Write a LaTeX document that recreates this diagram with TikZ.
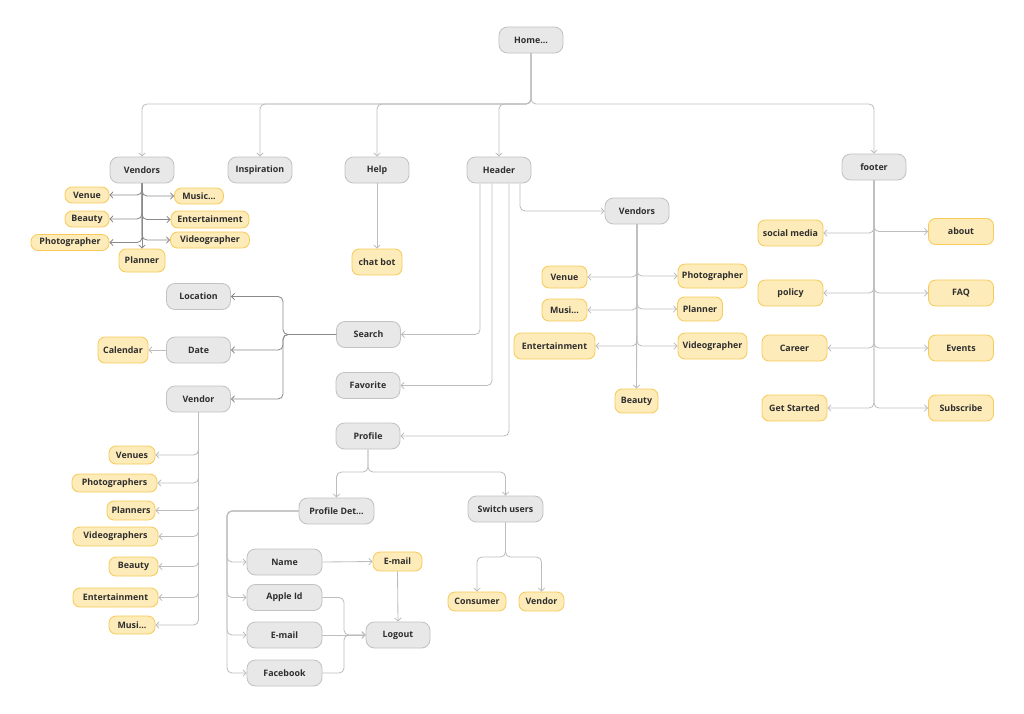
\documentclass[tikz,border=0pt]{standalone}
\usepackage{fontspec}
\setmainfont{Open Sans}
\usetikzlibrary{arrows.meta}

\definecolor{boxgray}{HTML}{E8E8E8}
\definecolor{edgegray}{HTML}{C2C2C2}
\definecolor{boxyel}{HTML}{FDEBB9}
\definecolor{edgeyel}{HTML}{F6CB5B}
\definecolor{linelight}{HTML}{BDBDBD}
\definecolor{linedark}{HTML}{8A8A8A}
\definecolor{inkgray}{HTML}{2E2E2E}

\tikzset{
    sz/.style 2 args={minimum width=#1*0.025cm, minimum height=#2*0.025cm},
    gbox/.style={draw=edgegray, fill=boxgray, rounded corners=6pt, line width=0.6pt,
        inner sep=1pt, text=inkgray, font=\fontsize{6.3}{7.5}\selectfont\bfseries, sz={64}{26}},
    ybox/.style={draw=edgeyel, fill=boxyel, rounded corners=5pt, line width=0.6pt,
        inner sep=1pt, text=inkgray, font=\fontsize{6.3}{7.5}\selectfont\bfseries},
    link/.style={draw=linelight, line width=0.6pt, rounded corners=3.5pt,
        -{Straight Barb[length=2.2pt,width=4.6pt]}},
    darklink/.style={link, draw=linedark},
}

\begin{document}
\begin{tikzpicture}[x=0.025cm, y=-0.025cm]
    \useasboundingbox (0,0) rectangle (1024,713);

    % main pages
    \node[gbox] (home) at (531,40) {Home...};
    \node[gbox] (vendL) at (142,170) {Vendors};
    \node[gbox] (inspiration) at (260,170) {Inspiration};
    \node[gbox] (help) at (377,170) {Help};
    \node[gbox] (header) at (499,170) {Header};
    \node[gbox] (footer) at (874,167) {footer};

    % vendors under home
    \node[ybox, sz={44}{16}] (venueA) at (87,195) {Venue};
    \node[ybox, sz={49}{16}] (musicA) at (199,196) {Music...};
    \node[ybox, sz={44}{16}] (beautyA) at (87,219) {Beauty};
    \node[ybox, sz={78}{17}] (entA) at (210,219.5) {Entertainment};
    \node[ybox, sz={78}{16}] (photoA) at (70,242.5) {Photographer};
    \node[ybox, sz={79}{16}] (videoA) at (210,240) {Videographer};
    \node[ybox, sz={46}{23}] (plannerA) at (142,260.5) {Planner};

    % help
    \node[ybox, sz={50}{26}] (chatbot) at (377,262) {chat bot};

    % header
    \node[gbox] (vendB) at (637,211) {Vendors};
    \node[ybox, sz={45}{22}] (venueB) at (564.5,277) {Venue};
    \node[ybox, sz={69}{24}] (photoB) at (712.5,276) {Photographer};
    \node[ybox, sz={45}{22}] (musicB) at (564.5,310) {Musi...};
    \node[ybox, sz={45}{24}] (plannerB) at (700,309) {Planner};
    \node[ybox, sz={81}{26}] (entB) at (554.5,346) {Entertainment};
    \node[ybox, sz={69}{26}] (videoB) at (712.5,346) {Videographer};
    \node[ybox, sz={43}{24}] (beautyB) at (636.5,401) {Beauty};

    \node[gbox] (search) at (368.5,334.5) {Search};
    \node[gbox] (favorite) at (368,385.5) {Favorite};
    \node[gbox] (profile) at (368,436) {Profile};

    \node[gbox] (location) at (198.5,296.5) {Location};
    \node[gbox] (date) at (198.5,350) {Date};
    \node[gbox] (vendor) at (198.5,399) {Vendor};
    \node[ybox, sz={50}{26}] (calendar) at (123,350) {Calendar};

    \node[ybox, sz={46}{18}] (venues) at (132,455) {Venues};
    \node[ybox, sz={85}{18}] (photographers) at (114.5,483) {Photographers};
    \node[ybox, sz={48}{19}] (planners) at (131,510.5) {Planners};
    \node[ybox, sz={85}{19}] (videographers) at (115.5,536.5) {Videographers};
    \node[ybox, sz={49}{19}] (beautyC) at (133.5,566.5) {Beauty};
    \node[ybox, sz={85}{19}] (entC) at (115.5,597.5) {Entertainment};
    \node[ybox, sz={46}{18}] (musicC) at (132,625) {Musi...};

    % profile
    \node[gbox, sz={75}{26}] (profdet) at (336.5,511) {Profile Det...};
    \node[gbox, sz={75}{26}] (switch) at (505.5,509) {Switch users};
    \node[gbox, sz={75}{26}] (name) at (284.5,562) {Name};
    \node[gbox, sz={75}{26}] (appleid) at (284.5,597.5) {Apple Id};
    \node[gbox, sz={75}{26}] (emailG) at (284.5,635) {E-mail};
    \node[gbox, sz={75}{26}] (facebook) at (284.5,673) {Facebook};
    \node[ybox, sz={49}{19}] (emailY) at (397.5,561.5) {E-mail};
    \node[gbox] (logout) at (398,635) {Logout};
    \node[ybox, sz={58}{19}] (consumer) at (477,601.5) {Consumer};
    \node[ybox, sz={45}{19}] (vendorY) at (541.5,601.5) {Vendor};

    % footer
    \node[ybox, sz={65}{26}] (social) at (790.5,233) {social media};
    \node[ybox, sz={65}{26}] (about) at (961,231.5) {about};
    \node[ybox, sz={65}{26}] (policy) at (790.5,293) {policy};
    \node[ybox, sz={65}{26}] (faq) at (961,293) {FAQ};
    \node[ybox, sz={65}{26}] (career) at (794.5,348) {Career};
    \node[ybox, sz={65}{26}] (events) at (961,348) {Events};
    \node[ybox, sz={65}{26}] (getstarted) at (794.5,408) {Get Started};
    \node[ybox, sz={65}{26}] (subscribe) at (961,408) {Subscribe};

    % home tree
    \coordinate (hbus) at (531,104);
    \draw[link] (home.south) -- (hbus) -| (vendL.north);
    \draw[link] (home.south) -- (hbus) -| (inspiration.north);
    \draw[link] (home.south) -- (hbus) -| (help.north);
    \draw[link] (home.south) -- (hbus) -| (header.north);
    \draw[link] (home.south) -- (hbus) -| (footer.north);

    % vendors under home
    \draw[darklink] (vendL.south) -- (plannerA.north);
    \draw[darklink] (vendL.south) |- (venueA.east);
    \draw[darklink] (vendL.south) |- (musicA.west);
    \draw[darklink] (vendL.south) |- (beautyA.east);
    \draw[darklink] (vendL.south) |- (entA.west);
    \draw[darklink] (vendL.south) |- (photoA.east);
    \draw[darklink] (vendL.south) |- (videoA.west);

    \draw[link] (help.south) -- (chatbot.north);

    % header
    \draw[link] (480,0 |- header.south) |- (search.east);
    \draw[link] (492,0 |- header.south) |- (favorite.east);
    \draw[link] (509,0 |- header.south) |- (profile.east);
    \draw[link] (520,0 |- header.south) |- (vendB.west);

    \draw[link] (vendB.south) -- (beautyB.north);
    \draw[link] (vendB.south) |- (venueB.east);
    \draw[link] (vendB.south) |- (photoB.west);
    \draw[link] (vendB.south) |- (musicB.east);
    \draw[link] (vendB.south) |- (plannerB.west);
    \draw[link] (vendB.south) |- (entB.east);
    \draw[link] (vendB.south) |- (videoB.west);

    % search
    \coordinate (sbus) at (283,334.5);
    \draw[darklink] (search.west) -- (sbus) |- (location.east);
    \draw[darklink] (search.west) -- (sbus) |- (date.east);
    \draw[darklink] (search.west) -- (sbus) |- (vendor.east);
    \draw[link] (date.west) -- (calendar.east);

    \draw[link] (vendor.south) |- (venues.east);
    \draw[link] (vendor.south) |- (photographers.east);
    \draw[link] (vendor.south) |- (planners.east);
    \draw[link] (vendor.south) |- (videographers.east);
    \draw[link] (vendor.south) |- (beautyC.east);
    \draw[link] (vendor.south) |- (entC.east);
    \draw[link] (vendor.south) |- (musicC.east);

    % profile
    \coordinate (pbus) at (368,472);
    \draw[link] (profile.south) -- (pbus) -| (profdet.north);
    \draw[link] (profile.south) -- (pbus) -| (switch.north);

    \coordinate (dbus) at (227,511);
    \draw[link] (profdet.west) -- (dbus) |- (name.west);
    \draw[link] (profdet.west) -- (dbus) |- (appleid.west);
    \draw[link] (profdet.west) -- (dbus) |- (emailG.west);
    \draw[link] (profdet.west) -- (dbus) |- (facebook.west);

    \draw[link] (name.east) -- (emailY.west);
    \draw[link] (emailY.south) -- (logout.north);
    \draw[link] (appleid.east) -- (344,0 |- appleid.east) |- (logout.west);
    \draw[link] (emailG.east) -- (logout.west);
    \draw[link] (facebook.east) -- (344,0 |- facebook.east) |- (logout.west);

    \coordinate (ubus) at (505.5,557);
    \draw[link] (switch.south) -- (ubus) -| (consumer.north);
    \draw[link] (switch.south) -- (ubus) -| (vendorY.north);

    % footer
    \draw[link] (footer.south) |- (social.east);
    \draw[link] (footer.south) |- (about.west);
    \draw[link] (footer.south) |- (policy.east);
    \draw[link] (footer.south) |- (faq.west);
    \draw[link] (footer.south) |- (career.east);
    \draw[link] (footer.south) |- (events.west);
    \draw[link] (footer.south) |- (getstarted.east);
    \draw[link] (footer.south) |- (subscribe.west);
\end{tikzpicture}
\end{document}
